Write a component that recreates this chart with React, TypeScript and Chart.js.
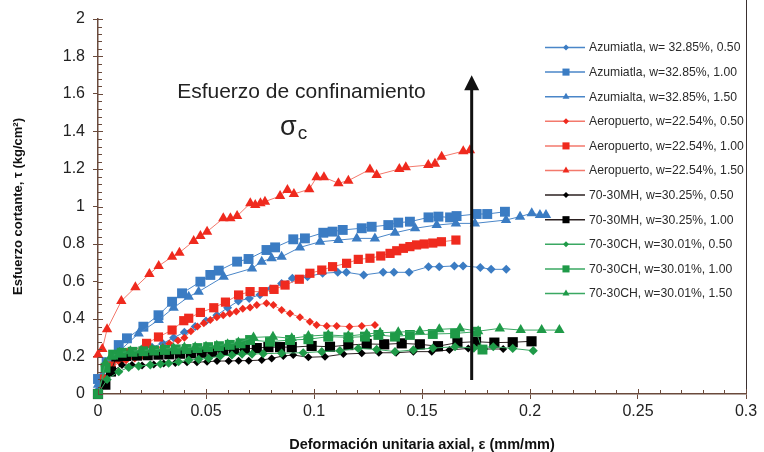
import React, { useEffect, useRef } from "react";
import { Chart, registerables } from "chart.js";

Chart.register(...registerables);

const FONT = "'Liberation Sans', Arial, Helvetica, sans-serif";
const AXIS_COLOR = "#6a4a3c";

const xTickLabels = ["0", "0.05", "0.1", "0.15", "0.2", "0.25", "0.3"];
const yTickLabels = ["0", "0.2", "0.4", "0.6", "0.8", "1", "1.2", "1.4", "1.6", "1.8", "2"];

const xTitle = "Deformación unitaria axial, ε (mm/mm)";
const yTitle = "Esfuerzo cortante, τ (kg/cm²)";
const noteLine1 = "Esfuerzo de confinamiento";
const noteSigma = "σ";
const noteSub = "c";

const seriesLabels = [
  "Azumiatla, w= 32.85%, 0.50",
  "Azumiatla, w=32.85%, 1.00",
  "Azumialta, w=32.85%, 1.50",
  "Aeropuerto, w=22.54%, 0.50",
  "Aeropuerto, w=22.54%, 1.00",
  "Aeropuerto, w=22.54%, 1.50",
  "70-30MH, w=30.25%, 0.50",
  "70-30MH, w=30.25%, 1.00",
  "70-30CH, w=30.01%, 0.50",
  "70-30CH, w=30.01%, 1.00",
  "70-30CH, w=30.01%, 1.50",
];

// Azumiatla 0.50
const azu050X = [0, 0.002, 0.005, 0.01, 0.015, 0.02, 0.025, 0.03, 0.035, 0.04, 0.045, 0.05, 0.055, 0.06, 0.065, 0.07, 0.075, 0.08, 0.085, 0.09, 0.097, 0.104, 0.111, 0.115, 0.123, 0.132, 0.137, 0.144, 0.153, 0.158, 0.165, 0.169, 0.177, 0.182, 0.189];
const azu050Y = [0.02, 0.1, 0.14, 0.18, 0.2, 0.22, 0.25, 0.27, 0.3, 0.33, 0.36, 0.39, 0.42, 0.46, 0.496, 0.51, 0.53, 0.56, 0.59, 0.617, 0.626, 0.644, 0.649, 0.649, 0.635, 0.649, 0.649, 0.649, 0.679, 0.679, 0.683, 0.683, 0.675, 0.665, 0.665];
// Azumiatla 1.00
const azu100X = [0, 0.004, 0.0096, 0.0134, 0.021, 0.028, 0.0343, 0.0389, 0.0474, 0.052, 0.0559, 0.0644, 0.0697, 0.078, 0.082, 0.0904, 0.0958, 0.1043, 0.1086, 0.1133, 0.1221, 0.1267, 0.1344, 0.139, 0.1444, 0.153, 0.1576, 0.163, 0.166, 0.1753, 0.1802, 0.1884];
const azu100Y = [0.08, 0.17, 0.261, 0.297, 0.359, 0.42, 0.492, 0.537, 0.599, 0.635, 0.658, 0.706, 0.72, 0.768, 0.782, 0.825, 0.83, 0.86, 0.866, 0.875, 0.884, 0.892, 0.901, 0.914, 0.919, 0.942, 0.946, 0.942, 0.949, 0.96, 0.96, 0.972];
// Azumialta 1.50
const azu150X = [0, 0.004, 0.01, 0.0188, 0.0281, 0.035, 0.042, 0.0466, 0.0582, 0.0713, 0.0758, 0.0804, 0.085, 0.0935, 0.1028, 0.1113, 0.1198, 0.1282, 0.1375, 0.1468, 0.1568, 0.1657, 0.1745, 0.1889, 0.1954, 0.2008, 0.2046, 0.2074];
const azu150Y = [0.05, 0.15, 0.23, 0.323, 0.395, 0.46, 0.519, 0.546, 0.626, 0.67, 0.706, 0.724, 0.732, 0.782, 0.812, 0.821, 0.83, 0.83, 0.86, 0.884, 0.901, 0.91, 0.91, 0.928, 0.946, 0.964, 0.955, 0.955];
// Aeropuerto 0.50
const aer050X = [0, 0.003, 0.006, 0.01, 0.013, 0.017, 0.02, 0.024, 0.027, 0.03, 0.033, 0.037, 0.04, 0.043, 0.046, 0.049, 0.052, 0.055, 0.058, 0.061, 0.064, 0.067, 0.0704, 0.0735, 0.078, 0.0812, 0.085, 0.0889, 0.0935, 0.0981, 0.1012, 0.1059, 0.1105, 0.1164, 0.1221, 0.1282];
const aer050Y = [0, 0.08, 0.14, 0.17, 0.18, 0.19, 0.2, 0.21, 0.23, 0.25, 0.27, 0.285, 0.3, 0.335, 0.36, 0.378, 0.395, 0.41, 0.42, 0.43, 0.44, 0.455, 0.462, 0.475, 0.484, 0.475, 0.448, 0.43, 0.409, 0.386, 0.368, 0.363, 0.363, 0.359, 0.363, 0.368];
// Aeropuerto 1.00
const aer100X = [0, 0.003, 0.006, 0.01, 0.015, 0.0225, 0.028, 0.0343, 0.0397, 0.042, 0.0474, 0.0536, 0.059, 0.0651, 0.0704, 0.0765, 0.0815, 0.0866, 0.0932, 0.0981, 0.1036, 0.1086, 0.1151, 0.1205, 0.1259, 0.1309, 0.1352, 0.1383, 0.1414, 0.1444, 0.1475, 0.151, 0.155, 0.159, 0.1657];
const aer100Y = [0, 0.08, 0.15, 0.19, 0.22, 0.27, 0.304, 0.341, 0.391, 0.404, 0.435, 0.46, 0.49, 0.528, 0.546, 0.546, 0.558, 0.581, 0.612, 0.644, 0.661, 0.679, 0.697, 0.718, 0.724, 0.736, 0.75, 0.764, 0.777, 0.786, 0.795, 0.8, 0.805, 0.812, 0.821];
// Aeropuerto 1.50
const aer150X = [0, 0.002, 0.0042, 0.0108, 0.0173, 0.0238, 0.0281, 0.0343, 0.0377, 0.0443, 0.0474, 0.0505, 0.058, 0.0613, 0.0644, 0.0705, 0.0728, 0.0752, 0.0773, 0.0843, 0.0877, 0.0907, 0.0978, 0.1012, 0.1046, 0.1113, 0.1159, 0.1259, 0.129, 0.1395, 0.1425, 0.1529, 0.156, 0.1591, 0.1691, 0.1722];
const aer150Y = [0.21, 0.24, 0.345, 0.496, 0.569, 0.64, 0.683, 0.732, 0.754, 0.816, 0.843, 0.866, 0.937, 0.937, 0.949, 1.017, 1.008, 1.017, 1.026, 1.056, 1.088, 1.067, 1.092, 1.156, 1.156, 1.124, 1.138, 1.198, 1.168, 1.2, 1.21, 1.221, 1.228, 1.266, 1.295, 1.3];
// 70-30MH 0.50
const mh050X = [0, 0.0034, 0.0065, 0.0111, 0.0157, 0.0204, 0.0258, 0.0304, 0.0358, 0.0412, 0.0458, 0.0505, 0.0551, 0.0605, 0.0651, 0.0698, 0.0758, 0.0804, 0.0858, 0.0904, 0.0974, 0.1051, 0.1136, 0.1221, 0.13, 0.138, 0.146, 0.1545, 0.1627, 0.1714, 0.1787, 0.1876];
const mh050Y = [0, 0.057, 0.12, 0.155, 0.155, 0.152, 0.157, 0.163, 0.166, 0.17, 0.17, 0.172, 0.176, 0.176, 0.178, 0.178, 0.181, 0.19, 0.203, 0.208, 0.196, 0.199, 0.213, 0.217, 0.22, 0.22, 0.226, 0.226, 0.235, 0.243, 0.24, 0.24];
// 70-30MH 1.00
const mh100X = [0, 0.0034, 0.006, 0.0085, 0.013, 0.018, 0.023, 0.028, 0.033, 0.038, 0.043, 0.048, 0.053, 0.058, 0.063, 0.068, 0.0735, 0.0789, 0.0843, 0.0897, 0.0989, 0.1074, 0.1159, 0.1244, 0.1325, 0.1406, 0.149, 0.1574, 0.1664, 0.175, 0.1835, 0.192, 0.2007];
const mh100Y = [0, 0.05, 0.12, 0.2, 0.203, 0.205, 0.207, 0.21, 0.212, 0.215, 0.217, 0.22, 0.225, 0.23, 0.235, 0.24, 0.245, 0.25, 0.25, 0.25, 0.256, 0.252, 0.261, 0.267, 0.265, 0.27, 0.265, 0.255, 0.274, 0.279, 0.274, 0.276, 0.281];
// 70-30CH 0.50
const ch050X = [0, 0.0042, 0.0096, 0.0142, 0.0188, 0.0242, 0.0289, 0.0327, 0.0373, 0.042, 0.0466, 0.0512, 0.0566, 0.062, 0.0667, 0.0713, 0.0765, 0.085, 0.095, 0.1036, 0.112, 0.1205, 0.129, 0.1375, 0.146, 0.155, 0.1653, 0.174, 0.183, 0.192, 0.2015];
const ch050Y = [0, 0.078, 0.119, 0.142, 0.149, 0.155, 0.16, 0.164, 0.172, 0.181, 0.185, 0.19, 0.203, 0.208, 0.213, 0.213, 0.215, 0.218, 0.22, 0.226, 0.231, 0.243, 0.238, 0.226, 0.235, 0.245, 0.252, 0.245, 0.252, 0.243, 0.231];
// 70-30CH 1.00
const ch100X = [0, 0.0035, 0.007, 0.011, 0.016, 0.021, 0.026, 0.031, 0.036, 0.041, 0.046, 0.051, 0.056, 0.061, 0.066, 0.0704, 0.0796, 0.0889, 0.0974, 0.1066, 0.1159, 0.1236, 0.1298, 0.1375, 0.1444, 0.155, 0.1653, 0.175, 0.178];
const ch100Y = [0, 0.14, 0.21, 0.22, 0.225, 0.228, 0.232, 0.235, 0.238, 0.24, 0.245, 0.25, 0.255, 0.262, 0.27, 0.288, 0.279, 0.288, 0.292, 0.306, 0.302, 0.306, 0.315, 0.306, 0.315, 0.32, 0.323, 0.332, 0.237];
// 70-30CH 1.50
const ch150X = [0, 0.0034, 0.006, 0.01, 0.015, 0.02, 0.025, 0.03, 0.035, 0.04, 0.045, 0.05, 0.055, 0.06, 0.065, 0.072, 0.081, 0.0897, 0.0974, 0.1066, 0.1159, 0.1244, 0.1306, 0.139, 0.149, 0.158, 0.1676, 0.176, 0.186, 0.1957, 0.2054, 0.2136];
const ch150Y = [0, 0.164, 0.2, 0.22, 0.228, 0.232, 0.236, 0.24, 0.244, 0.248, 0.25, 0.252, 0.258, 0.265, 0.275, 0.302, 0.306, 0.297, 0.309, 0.315, 0.309, 0.32, 0.327, 0.33, 0.335, 0.345, 0.35, 0.335, 0.35, 0.341, 0.341, 0.341];

// annotation anchors in data units
const arrowX = 0.173;
const arrowFromY = 0.075;
const arrowToY = 1.7;
const noteX = 0.0942;
const noteY = 1.579;
const sigmaX = 0.0843;
const sigmaY = 1.381;

const BLUE = "#3b7cc3";
const BLUE_LINE = "#4a86c8";
const RED = "#ef2a1e";
const RED_LINE = "#f3796c";
const BLACK = "#000000";
const BLACK_LINE = "#2b2020";
const GREEN = "#1f9a48";
const GREEN_LINE = "#3aa862";

type Style = { shape: string; r: number; color: string; line: string; legendR: number };
const styles: Style[] = [
  { shape: "rectRot", r: 4.5, color: BLUE, line: BLUE_LINE, legendR: 3 },
  { shape: "rect", r: 7, color: BLUE, line: BLUE_LINE, legendR: 5 },
  { shape: "triangle", r: 6, color: BLUE, line: BLUE_LINE, legendR: 4 },
  { shape: "rectRot", r: 4, color: RED, line: RED_LINE, legendR: 3 },
  { shape: "rect", r: 6.5, color: RED, line: RED_LINE, legendR: 5 },
  { shape: "triangle", r: 6, color: RED, line: RED_LINE, legendR: 4 },
  { shape: "rectRot", r: 4, color: BLACK, line: BLACK_LINE, legendR: 3 },
  { shape: "rect", r: 7.2, color: BLACK, line: BLACK_LINE, legendR: 5 },
  { shape: "rectRot", r: 4.6, color: GREEN, line: GREEN_LINE, legendR: 3 },
  { shape: "rect", r: 7, color: GREEN, line: GREEN_LINE, legendR: 5 },
  { shape: "triangle", r: 6, color: GREEN, line: GREEN_LINE, legendR: 4 },
];

const seriesX = [azu050X, azu100X, azu150X, aer050X, aer100X, aer150X, mh050X, mh100X, ch050X, ch100X, ch150X];
const seriesY = [azu050Y, azu100Y, azu150Y, aer050Y, aer100Y, aer150Y, mh050Y, mh100Y, ch050Y, ch100Y, ch150Y];

function drawMarker(ctx: CanvasRenderingContext2D, shape: string, x: number, y: number, r: number) {
  ctx.beginPath();
  if (shape === "rectRot") {
    ctx.moveTo(x, y - r);
    ctx.lineTo(x + r, y);
    ctx.lineTo(x, y + r);
    ctx.lineTo(x - r, y);
  } else if (shape === "rect") {
    const s = r * Math.SQRT1_2;
    ctx.rect(x - s, y - s, 2 * s, 2 * s);
  } else {
    const w = r * Math.sin(Math.PI / 3);
    ctx.moveTo(x, y - r);
    ctx.lineTo(x + w, y + r / 2);
    ctx.lineTo(x - w, y + r / 2);
  }
  ctx.closePath();
  ctx.fill();
}

const decorPlugin = {
  id: "decor",
  afterDraw(chart: any) {
    const ctx: CanvasRenderingContext2D = chart.ctx;
    const xs = chart.scales.x;
    const ys = chart.scales.y;
    const ca = chart.chartArea;
    ctx.save();

    // right frame line
    ctx.strokeStyle = "#3a3030";
    ctx.lineWidth = 1;
    ctx.beginPath();
    ctx.moveTo(Math.round(ca.right) + 0.5, 0);
    ctx.lineTo(Math.round(ca.right) + 0.5, ca.bottom);
    ctx.stroke();

    // minor ticks and inner part of major ticks
    ctx.strokeStyle = AXIS_COLOR;
    ctx.lineWidth = 1;
    for (let i = 0; i <= 30; i++) {
      const v = i * 0.01;
      const px = Math.round(xs.getPixelForValue(v)) + 0.5;
      const len = i % 5 === 0 ? 5 : 4;
      ctx.beginPath();
      ctx.moveTo(px, ca.bottom);
      ctx.lineTo(px, ca.bottom - len);
      ctx.stroke();
    }
    for (let i = 0; i <= 50; i++) {
      const v = i * 0.04;
      const py = Math.round(ys.getPixelForValue(v)) + 0.5;
      const len = i % 5 === 0 ? 5 : 4;
      ctx.beginPath();
      ctx.moveTo(ca.left, py);
      ctx.lineTo(ca.left + len, py);
      ctx.stroke();
    }

    // arrow
    const ax = xs.getPixelForValue(arrowX);
    const ay0 = ys.getPixelForValue(arrowFromY);
    const ay1 = ys.getPixelForValue(arrowToY);
    ctx.strokeStyle = "#111";
    ctx.fillStyle = "#111";
    ctx.lineWidth = 3;
    ctx.beginPath();
    ctx.moveTo(ax, ay0);
    ctx.lineTo(ax, ay1 + 12);
    ctx.stroke();
    ctx.beginPath();
    ctx.moveTo(ax, ay1);
    ctx.lineTo(ax + 7.5, ay1 + 15);
    ctx.lineTo(ax - 7.5, ay1 + 15);
    ctx.closePath();
    ctx.fill();

    // annotation text
    ctx.fillStyle = "#222";
    ctx.textBaseline = "alphabetic";
    ctx.textAlign = "center";
    ctx.font = `21px ${FONT}`;
    ctx.fillText(noteLine1, xs.getPixelForValue(noteX), ys.getPixelForValue(noteY));
    ctx.textAlign = "left";
    ctx.font = `27px ${FONT}`;
    const sx = xs.getPixelForValue(sigmaX);
    const sy = ys.getPixelForValue(sigmaY);
    ctx.fillText(noteSigma, sx, sy);
    const sw = ctx.measureText(noteSigma).width;
    ctx.font = `19px ${FONT}`;
    ctx.fillText(noteSub, sx + sw + 1, sy + 4);

    // legend
    const lx0 = 545;
    const lx1 = 585;
    const mx = 566;
    const tx = 589;
    const top = 47.5;
    const step = 24.6;
    ctx.font = `12.2px ${FONT}`;
    ctx.textBaseline = "middle";
    ctx.textAlign = "left";
    seriesLabels.forEach((label, i) => {
      const st = styles[i];
      const y = top + i * step;
      ctx.strokeStyle = st.line;
      ctx.lineWidth = 1.5;
      ctx.beginPath();
      ctx.moveTo(lx0, y);
      ctx.lineTo(lx1, y);
      ctx.stroke();
      ctx.fillStyle = st.color;
      drawMarker(ctx, st.shape, mx, y, st.legendR);
      ctx.fillStyle = "#2a2a2a";
      ctx.fillText(label, tx, y + 0.5);
    });

    ctx.restore();
  },
};

export default function App() {
  const ref = useRef<HTMLCanvasElement | null>(null);
  useEffect(() => {
    if (!ref.current) return;
    const datasets = seriesLabels.map((label, i) => ({
      label,
      data: seriesX[i].map((x, j) => ({ x, y: seriesY[i][j] })),
      showLine: true,
      borderColor: styles[i].line,
      borderWidth: 1,
      backgroundColor: styles[i].color,
      pointStyle: styles[i].shape,
      pointRadius: styles[i].r,
      pointBackgroundColor: styles[i].color,
      pointBorderColor: styles[i].color,
      pointBorderWidth: 0,
      order: seriesLabels.length - i,
      clip: false,
    }));
    const chart = new Chart(ref.current, {
      type: "scatter",
      data: { datasets },
      options: {
        animation: false,
        responsive: false,
        devicePixelRatio: 1,
        layout: { padding: { top: 19, right: 18, left: 0, bottom: 0 } },
        plugins: { legend: { display: false }, tooltip: { enabled: false } },
        scales: {
          x: {
            type: "linear",
            min: 0,
            max: 0.3,
            afterFit: (s: any) => {
              s.height = 58;
            },
            ticks: {
              stepSize: 0.05,
              padding: 3,
              color: "#222",
              font: { family: FONT, size: 16 },
              callback: (_v: any, i: number) => xTickLabels[i],
            },
            grid: { drawOnChartArea: false, tickLength: 5, color: AXIS_COLOR },
            border: { color: AXIS_COLOR, width: 1.5 },
            title: {
              display: true,
              text: xTitle,
              color: "#111",
              font: { family: FONT, size: 14.5, weight: "bold" },
              padding: { top: 0, bottom: -2 },
            },
          },
          y: {
            type: "linear",
            min: 0,
            max: 2,
            afterFit: (s: any) => {
              s.width = 98;
            },
            ticks: {
              stepSize: 0.2,
              padding: 8,
              color: "#222",
              font: { family: FONT, size: 16 },
              callback: (_v: any, i: number) => yTickLabels[i],
            },
            grid: { drawOnChartArea: false, tickLength: 5, color: AXIS_COLOR },
            border: { color: AXIS_COLOR, width: 1.5 },
            title: {
              display: true,
              text: yTitle,
              color: "#111",
              font: { family: FONT, size: 13, weight: "bold" },
              padding: { top: 11, bottom: 0 },
            },
          },
        },
      } as any,
      plugins: [decorPlugin],
    });
    return () => chart.destroy();
  }, []);
  return (
    <div style={{ position: "fixed", left: 0, top: 0, width: 764, height: 452, background: "#fff" }}>
      <canvas ref={ref} width={764} height={452} style={{ display: "block", width: 764, height: 452 }} />
    </div>
  );
}
